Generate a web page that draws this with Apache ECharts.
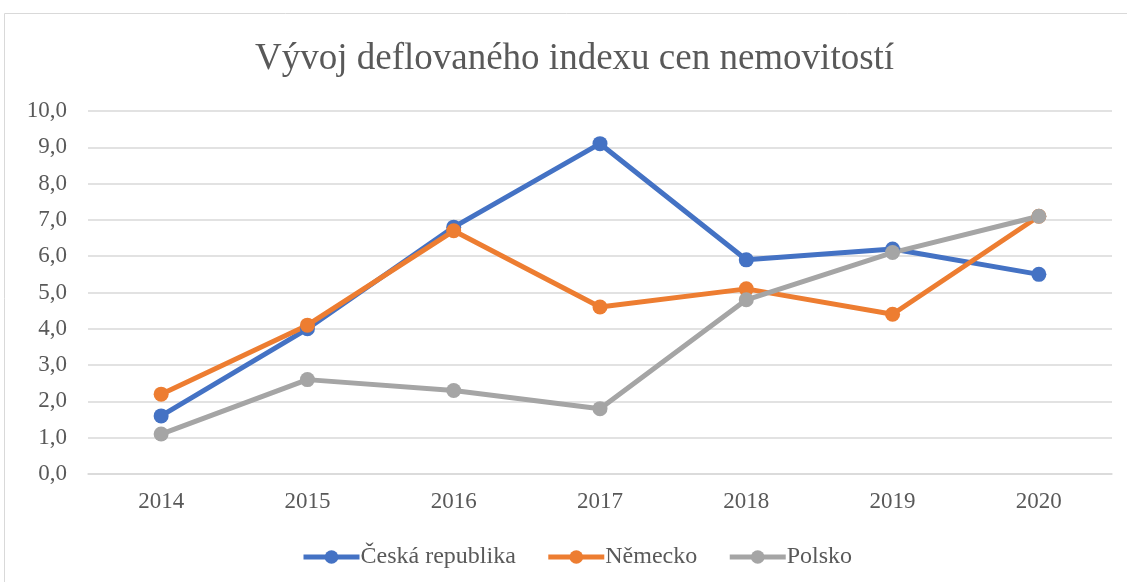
<!DOCTYPE html>
<html><head><meta charset="utf-8">
<script src="https://cdn.jsdelivr.net/npm/echarts@6/dist/echarts.min.js"></script>
<style>html,body{margin:0;padding:0;background:#fff}#c{width:1127px;height:582px}</style>
</head><body><div id="c"></div>
<script>
const categories = ['2014','2015','2016','2017','2018','2019','2020'];
const cesko = [1.6, 4.0, 6.8, 9.1, 5.9, 6.2, 5.5];
const nemecko = [2.2, 4.1, 6.7, 4.6, 5.1, 4.4, 7.1];
const polsko = [1.1, 2.6, 2.3, 1.8, 4.8, 6.1, 7.1];
const seriesNames = ['Česká republika', 'Německo', 'Polsko'];
const colors = ['#4472C4', '#ED7D31', '#A5A5A5'];

const chart = echarts.init(document.getElementById('c'));
const font = '"Liberation Serif", "Times New Roman", serif';
function mk(name, data, color) {
  return {
    name, type: 'line', data, color,
    symbol: 'circle', symbolSize: 15,
    lineStyle: { width: 5, color },
    itemStyle: { color },
    emphasis: { disabled: true }
  };
}
chart.setOption({
  animation: false,
  graphic: [{ type: 'rect', shape: { x: 4.5, y: 13.5, width: 1130, height: 600 },
    style: { fill: 'none', stroke: '#D9D9D9', lineWidth: 1 }, silent: true }],
  title: { text: 'Vývoj deflovaného indexu cen nemovitostí', left: 250, top: 36,
    textStyle: { fontFamily: font, fontSize: 37, fontWeight: 'normal', color: '#595959' } },
  grid: { left: 88, right: 15, top: 111, bottom: 108 },
  xAxis: { type: 'category', data: categories, boundaryGap: true,
    axisLine: { show: true, lineStyle: { color: '#D9D9D9', width: 1.5 } },
    axisTick: { show: false },
    axisLabel: { fontFamily: font, fontSize: 23, color: '#595959', margin: 16 } },
  yAxis: { type: 'value', min: 0, max: 10, interval: 1,
    axisLine: { show: false }, axisTick: { show: false },
    splitLine: { lineStyle: { color: '#D9D9D9', width: 1.5 } },
    axisLabel: { fontFamily: font, fontSize: 23, color: '#595959', margin: 21,
      formatter: v => v.toFixed(1).replace('.', ',') } },
  legend: { top: 540, left: 296, itemWidth: 56, itemHeight: 17, itemGap: 30,
    data: seriesNames,
    lineStyle: { width: 5 },
    textStyle: { fontFamily: font, fontSize: 24, color: '#595959', padding: [0,0,0,-4] } },
  series: [mk(seriesNames[0], cesko, colors[0]), mk(seriesNames[1], nemecko, colors[1]), mk(seriesNames[2], polsko, colors[2])]
});
</script></body></html>
